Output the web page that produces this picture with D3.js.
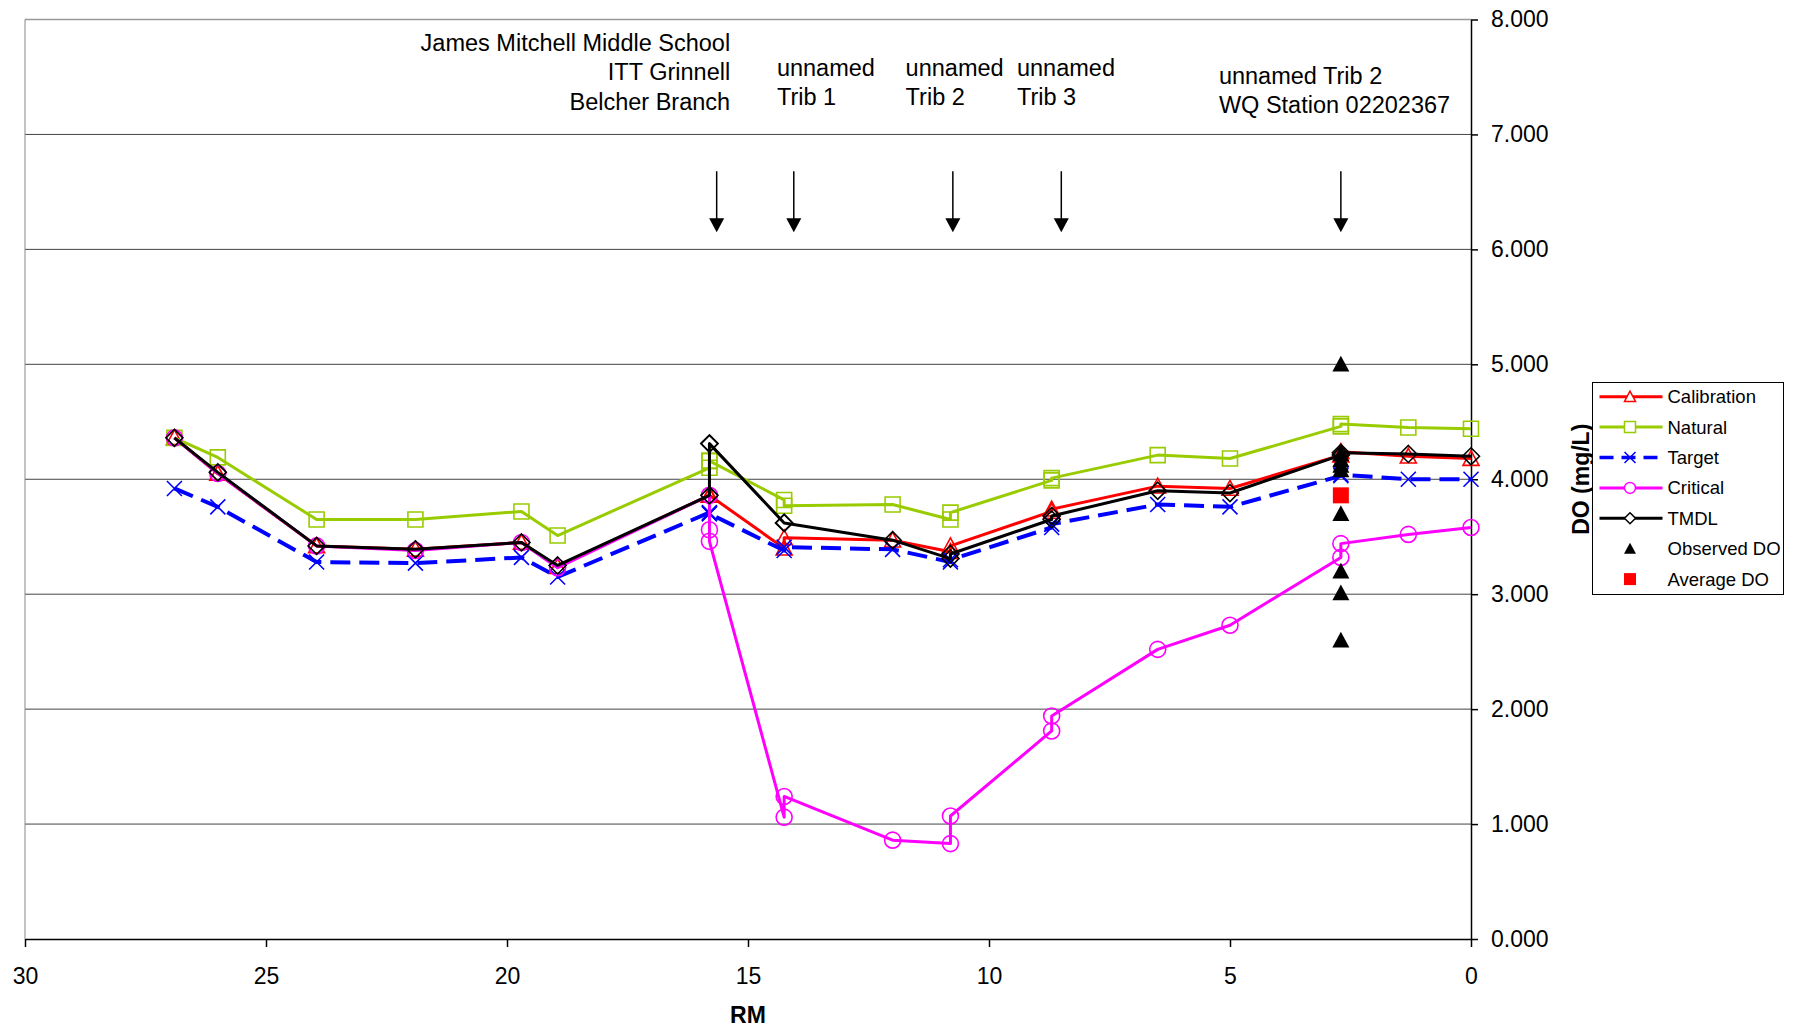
<!DOCTYPE html>
<html>
<head>
<meta charset="utf-8">
<script src="https://cdn.jsdelivr.net/npm/d3@7"></script>
<style>
  body { margin: 0; background: #fff; }
  svg text { font-family: "Liberation Sans", Arial, sans-serif; fill: #000; }
</style>
</head>
<body>
<div id="chart"></div>
<script>
// river mile of each model point (doubled where a tributary comes in)
const rm = [26.9, 26.0, 23.95, 21.9, 19.7, 18.95, 15.8, 15.8, 15.8, 14.25, 14.25, 12.0,
            10.8, 10.8, 8.7, 8.7, 6.5, 5.0, 2.7, 2.7, 1.3, 0];

const calibration = [4.36, 4.05, 3.42, 3.39, 3.45, 3.24, 3.86, 3.86, 3.86, 3.40, 3.49, 3.47,
                     3.37, 3.42, 3.72, 3.74, 3.94, 3.92, 4.21, 4.24, 4.20, 4.18];
const natural     = [4.36, 4.19, 3.65, 3.65, 3.72, 3.51, 4.10, 4.16, 4.16, 3.82, 3.77, 3.78,
                     3.65, 3.71, 3.99, 4.01, 4.21, 4.18, 4.46, 4.48, 4.45, 4.44];
const target      = [3.92, 3.76, 3.28, 3.27, 3.32, 3.15, 3.71, 3.70, 3.70, 3.38, 3.41, 3.39,
                     3.28, 3.30, 3.58, 3.61, 3.78, 3.76, 4.03, 4.04, 4.00, 4.00];
const critical    = [4.36, 4.05, 3.42, 3.38, 3.45, 3.23, 3.86, 3.56, 3.46, 1.06, 1.24, 0.86,
                     0.83, 1.07, 1.81, 1.94, 2.52, 2.73, 3.32, 3.44, 3.52, 3.58];
const tmdl        = [4.36, 4.06, 3.42, 3.39, 3.45, 3.25, 3.86, 4.31, 4.31, 3.62, 3.62, 3.47,
                     3.31, 3.35, 3.65, 3.68, 3.90, 3.88, 4.21, 4.23, 4.22, 4.20];

// WQ station 02202367 samples
const stationRm = 2.7;
const observedDO = [5.00, 4.22, 4.17, 4.12, 4.08, 3.70, 3.20, 3.01, 2.60];
const averageDO = [3.86];

// tributary / discharge arrows
const arrowRm = [15.65, 14.05, 10.75, 8.5, 2.7];
const arrowFrom = 6.68, arrowTo = 6.15;

const xTicks = [30, 25, 20, 15, 10, 5, 0];
const yTicks = [0, 1, 2, 3, 4, 5, 6, 7, 8];

// annotation blocks: anchor river mile, first baseline (mg/L), lines
const notes = [
  { rm: 15.37, top: 7.73, anchor: "end", lines: ["James Mitchell Middle School", "ITT Grinnell", "Belcher Branch"] },
  { rm: 14.4, top: 7.51, anchor: "start", lines: ["unnamed", "Trib 1"] },
  { rm: 11.73, top: 7.51, anchor: "start", lines: ["unnamed", "Trib 2"] },
  { rm: 9.42, top: 7.51, anchor: "start", lines: ["unnamed", "Trib 3"] },
  { rm: 5.23, top: 7.44, anchor: "start", lines: ["unnamed Trib 2", "WQ Station 02202367"] }
];

const width = 1794, height = 1030;
const plot = { left: 25, right: 1471, top: 19.5, bottom: 939 };

const svg = d3.select("#chart")
  .append("svg")
  .attr("width", width)
  .attr("height", height);

const x = d3.scaleLinear().domain([30, 0]).range([plot.left, plot.right]);
const y = d3.scaleLinear().domain([0, 8]).range([plot.bottom, plot.top]);

// grid
svg.append("g")
  .selectAll("line")
  .data(yTicks.filter(d => d > 0 && d < 8))
  .join("line")
  .attr("x1", plot.left).attr("x2", plot.right)
  .attr("y1", d => y(d)).attr("y2", d => y(d))
  .attr("stroke", "#444").attr("stroke-width", 1);

svg.append("line")
  .attr("x1", plot.left).attr("x2", plot.right)
  .attr("y1", y(8)).attr("y2", y(8))
  .attr("stroke", "#999").attr("stroke-width", 1.5);
svg.append("line")
  .attr("x1", x(30)).attr("x2", x(30))
  .attr("y1", y(8)).attr("y2", y(0))
  .attr("stroke", "#888").attr("stroke-width", 1);

// axes
const xAxis = svg.append("g")
  .attr("transform", `translate(0,${plot.bottom})`)
  .call(d3.axisBottom(x).tickValues(xTicks).tickFormat(d3.format("d"))
    .tickSize(8).tickSizeOuter(0).tickPadding(21));
const yAxis = svg.append("g")
  .attr("transform", `translate(${plot.right},0)`)
  .call(d3.axisRight(y).tickValues(yTicks).tickFormat(d3.format(".3f"))
    .tickSize(7).tickSizeOuter(0).tickPadding(13));

[xAxis, yAxis].forEach(g => {
  g.attr("font-family", null).attr("font-size", null);
  g.select(".domain").attr("stroke", "#000").attr("stroke-width", 1.5);
  g.selectAll(".tick line").attr("stroke", "#000").attr("stroke-width", 1.5);
  g.selectAll(".tick text").style("font-size", "23px");
});

svg.append("text")
  .attr("x", x(15)).attr("y", 1023)
  .attr("text-anchor", "middle")
  .style("font-size", "23px").style("font-weight", "bold")
  .text("RM");

svg.append("text")
  .attr("transform", `translate(1589,${(plot.top + plot.bottom) / 2}) rotate(-90)`)
  .attr("text-anchor", "middle")
  .style("font-size", "23px").style("font-weight", "bold")
  .text("DO (mg/L)");

// annotations
notes.forEach(n => {
  svg.append("text")
    .attr("text-anchor", n.anchor)
    .style("font-size", "23.5px")
    .selectAll("tspan")
    .data(n.lines)
    .join("tspan")
    .attr("x", x(n.rm))
    .attr("y", (d, i) => y(n.top) + i * 29.5)
    .text(d => d);
});

// arrows
const arrows = svg.append("g");
arrows.selectAll("line")
  .data(arrowRm)
  .join("line")
  .attr("x1", d => x(d)).attr("x2", d => x(d))
  .attr("y1", y(arrowFrom)).attr("y2", y(arrowTo) - 10)
  .attr("stroke", "#000").attr("stroke-width", 1.5);
arrows.selectAll("path")
  .data(arrowRm)
  .join("path")
  .attr("d", d => `M${x(d) - 7.5},${y(arrowTo) - 14} L${x(d) + 7.5},${y(arrowTo) - 14} L${x(d)},${y(arrowTo)} Z`)
  .attr("fill", "#000");

// marker shapes
function markerPath(type, r) {
  switch (type) {
    case "triangle": return `M0,${-r} L${r},${r * 0.85} L${-r},${r * 0.85} Z`;
    case "square": return `M${-r},${-r} H${r} V${r} H${-r} Z`;
    case "x": return `M${-r},${-r} L${r},${r} M${r},${-r} L${-r},${r}`;
    case "diamond": return `M0,${-r} L${r},0 L0,${r} L${-r},0 Z`;
    case "circle": {
      const p = d3.path();
      p.arc(0, 0, r, 0, 2 * Math.PI);
      return p.toString();
    }
  }
}

const series = [
  { name: "Calibration", values: calibration, color: "#ff0000", width: 3, dash: null, marker: "triangle", r: 8 },
  { name: "Natural", values: natural, color: "#99cc00", width: 3, dash: null, marker: "square", r: 7.5 },
  { name: "Target", values: target, color: "#0000ff", width: 4, dash: "20,9", marker: "x", r: 7.5 },
  { name: "Critical", values: critical, color: "#ff00ff", width: 3, dash: null, marker: "circle", r: 8 },
  { name: "TMDL", values: tmdl, color: "#000000", width: 3, dash: null, marker: "diamond", r: 8.5 }
];

const line = d3.line()
  .x(d => x(d[0]))
  .y(d => y(d[1]));

series.forEach(s => {
  const pts = rm.map((r, i) => [r, s.values[i]]);
  const g = svg.append("g");
  g.append("path")
    .attr("d", line(pts))
    .attr("fill", "none")
    .attr("stroke", s.color)
    .attr("stroke-width", s.width)
    .attr("stroke-dasharray", s.dash)
    .attr("stroke-linejoin", "round");
  g.selectAll(".pt")
    .data(pts)
    .join("path")
    .attr("class", "pt")
    .attr("transform", d => `translate(${x(d[0])},${y(d[1])})`)
    .attr("d", markerPath(s.marker, s.r))
    .attr("fill", "none")
    .attr("stroke", s.color)
    .attr("stroke-width", 1.6);
});

// observed and average DO
svg.append("g")
  .selectAll("path")
  .data(observedDO)
  .join("path")
  .attr("transform", d => `translate(${x(stationRm)},${y(d)})`)
  .attr("d", markerPath("triangle", 8.5))
  .attr("fill", "#000");

svg.append("g")
  .selectAll("rect")
  .data(averageDO)
  .join("rect")
  .attr("x", x(stationRm) - 8).attr("y", d => y(d) - 8)
  .attr("width", 16).attr("height", 16)
  .attr("fill", "#ff0000");

// legend
const legend = svg.append("g").attr("transform", "translate(1592.5,382.5)");
legend.append("rect")
  .attr("width", 191).attr("height", 212)
  .attr("fill", "#fff").attr("stroke", "#000").attr("stroke-width", 1);

const legendItems = series.map(s => ({ ...s, kind: "line" }))
  .concat([
    { name: "Observed DO", kind: "obs" },
    { name: "Average DO", kind: "avg" }
  ]);

const rows = legend.selectAll("g")
  .data(legendItems)
  .join("g")
  .attr("transform", (d, i) => `translate(0,${14.2 + i * 30.4})`);

rows.filter(d => d.kind === "line").append("line")
  .attr("x1", 7).attr("x2", 70)
  .attr("stroke", d => d.color)
  .attr("stroke-width", d => d.width === 4 ? 3.5 : 3)
  .attr("stroke-dasharray", d => d.dash ? "14,8" : null);
rows.filter(d => d.kind === "line").append("path")
  .attr("transform", "translate(37.5,0)")
  .attr("d", d => markerPath(d.marker, 5.5))
  .attr("fill", d => d.marker === "x" ? "none" : "#fff")
  .attr("stroke", d => d.color)
  .attr("stroke-width", 1.5);
rows.filter(d => d.kind === "obs").append("path")
  .attr("transform", "translate(37.5,0)")
  .attr("d", markerPath("triangle", 6))
  .attr("fill", "#000");
rows.filter(d => d.kind === "avg").append("rect")
  .attr("x", 31.5).attr("y", -6).attr("width", 12).attr("height", 12)
  .attr("fill", "#ff0000");

rows.append("text")
  .attr("x", 75).attr("y", 6.5)
  .style("font-size", "18.5px")
  .text(d => d.name);
</script>
</body>
</html>
